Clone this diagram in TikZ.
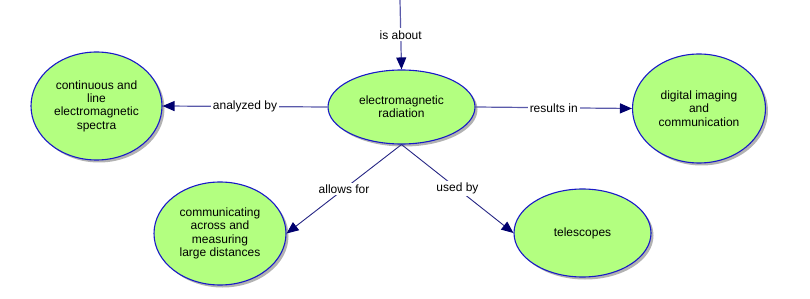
\documentclass[tikz,border=0pt]{standalone}
\usepackage{fontspec}
\setmainfont{Liberation Sans}
\usetikzlibrary{shapes.geometric,shadows,arrows.meta}
\definecolor{nodefill}{RGB}{179,255,128}
\definecolor{nodeborder}{RGB}{25,25,200}
\definecolor{linkline}{RGB}{90,90,170}
\definecolor{arrowcol}{RGB}{0,0,110}
\begin{document}
\begin{tikzpicture}[x=1pt,y=-1pt,
  every node/.style={font=\fontsize{12}{13.4}\selectfont},
  concept/.style={ellipse, draw=nodeborder, line width=1.1pt, fill=nodefill, inner sep=0pt,
    align=center, drop shadow={shadow xshift=2.5pt, shadow yshift=-2.5pt, fill=black, opacity=0.3}},
  link/.style={draw=linkline, line width=1.2pt, -{Triangle[length=12pt,width=10pt,color=arrowcol]}},
  dlink/.style={draw=arrowcol!85!white, line width=0.9pt, -{Triangle[length=12pt,width=10pt,color=arrowcol]}},
  lab/.style={fill=white, inner sep=2pt}]
\useasboundingbox (0,0) rectangle (810,299);
\node[concept, minimum width=147pt, minimum height=74pt] (c) at (401.5,107) {electromagnetic\\radiation};
\node[concept, minimum width=131pt, minimum height=108pt] (l) at (96.5,106) {continuous and\\line\\electromagnetic\\spectra};
\node[concept, minimum width=133pt, minimum height=109pt] (r) at (699,108.5) {digital imaging\\and\\communication};
\node[concept, minimum width=132pt, minimum height=103pt] (bl) at (220,233.5) {communicating\\across and\\measuring\\large distances};
\node[concept, minimum width=137pt, minimum height=88pt] (t) at (582.5,233) {telescopes};
\coordinate (top) at (400,0);
\draw[link] (top) -- node[lab] {is about} (c.north);
\draw[link] (c.west) -- node[lab] {analyzed by} (l.east);
\draw[link] (c.east) -- node[lab] {results in} (r.west);
\draw[dlink] (c.south) -- node[lab] {allows for} (bl.east);
\draw[dlink] (c.south) -- node[lab] {used by} (t.west);
\end{tikzpicture}
\end{document}
